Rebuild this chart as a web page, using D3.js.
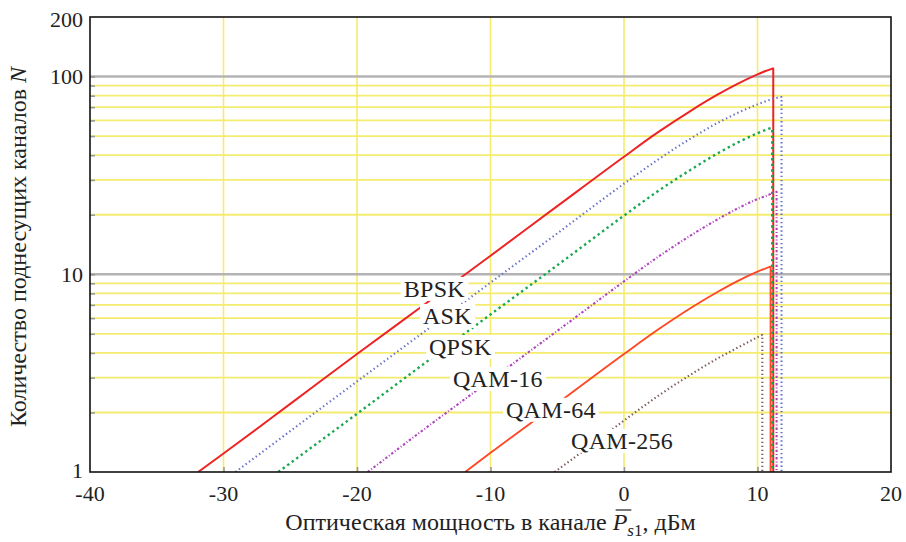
<!DOCTYPE html>
<html>
<head>
<meta charset="utf-8">
<script src="https://cdn.jsdelivr.net/npm/d3@7"></script>
<style>
  body { margin: 0; background: #fff; }
  svg text { font-family: "Liberation Serif", "DejaVu Serif", serif; fill: #222; }
</style>
</head>
<body>
<svg id="chart" width="906" height="542"></svg>
<script>
// Количество поднесущих каналов N vs оптическая мощность, дБм

const xTicks = [-40, -30, -20, -10, 0, 10, 20];
const yTickLabels = [1, 10, 100, 200];
const yMinor = [2, 3, 4, 5, 6, 7, 8, 9, 20, 30, 40, 50, 60, 70, 80, 90];
const yGray = [10, 100];

const seriesNames = ['BPSK', 'ASK', 'QPSK', 'QAM-16', 'QAM-64', 'QAM-256'];

// [P, dBm ; N]; last point = vertical drop
const bpsk = [[-31.9, 1], [-30, 1.24], [-25, 2.21], [-20, 3.95], [-15, 6.99], [-10, 12.4],
  [-5, 22.1], [0, 39.3], [2.5, 52], [5, 67.1], [7, 80.9], [8.5, 91.8], [10, 102.5],
  [10.6, 106.6], [11.1, 109.7], [11.18, 1]];
const ask = [[-29.1, 1], [-25, 1.61], [-20, 2.87], [-15, 5.1], [-10, 9.07], [-5, 16.1],
  [0, 28.7], [2.5, 37.8], [5, 48.6], [7, 58.2], [8.5, 65.4], [10, 72.3], [11, 76.5],
  [11.7, 78.8], [11.8, 1]];
const qpsk = [[-25.9, 1], [-20, 1.97], [-15, 3.52], [-10, 6.26], [-5, 11.1], [0, 19.8],
  [2.5, 26.2], [5, 33.8], [7, 40.8], [8.5, 46.3], [10, 51.7], [10.9, 54.6], [11.1, 1]];
const qam16 = [[-19.2, 1], [-15, 1.64], [-10, 2.91], [-5, 5.17], [0, 9.2], [2.5, 12.17],
  [5, 15.72], [7, 18.94], [8.5, 21.5], [10, 24.0], [11, 25.5], [11.1, 25.7], [11.43, 26.1],
  [11.43, 1]];
const qam64 = [[-11.9, 1], [-10, 1.25], [-5, 2.22], [0, 3.95], [2.5, 5.22], [5, 6.75],
  [7, 8.13], [8.5, 9.23], [10, 10.3], [10.95, 10.92], [10.98, 1]];
const qam256 = [[-5.2, 1], [-2.5, 1.36], [0, 1.82], [2.5, 2.41], [5, 3.11], [7, 3.75],
  [8.5, 4.25], [10, 4.8], [10.36, 4.93], [10.36, 1]];

const seriesValues = [bpsk, ask, qpsk, qam16, qam64, qam256];

// label anchors (data units: start P, baseline N)
const labelAnchors = [[-16.5, 7.68], [-15.06, 5.61], [-14.61, 3.91], [-12.81, 2.69], [-8.84, 1.88], [-3.97, 1.31]];

const lineStyles = [
  { color: '#ee2424', width: 2, dash: null },
  { color: '#6870c8', width: 2.1, dash: '1.4,2.8' },
  { color: '#1aa84e', width: 2.4, dash: '2.4,3.2' },
  { color: '#b044c0', width: 2.1, dash: '2.4,2,1,2' },
  { color: '#ff4826', width: 1.9, dash: null },
  { color: '#7c5a5a', width: 2.1, dash: '1.4,2.6' }
];

const svg = d3.select('#chart');
const plotLeft = 90, plotRight = 891, plotTop = 17, plotBottom = 472;
const serif = '"Liberation Serif", "DejaVu Serif", serif';

const x = d3.scaleLinear().domain([-40, 20]).range([plotLeft, plotRight]);
const y = d3.scaleLog().domain([1, 200]).range([plotBottom, plotTop]);

// grid
const grid = svg.append('g');
grid.selectAll('.vg')
  .data(xTicks.slice(1, -1))
  .enter().append('line')
  .attr('x1', d => x(d)).attr('x2', d => x(d))
  .attr('y1', plotTop).attr('y2', plotBottom)
  .style('stroke', '#f4ec6e').style('stroke-width', 1.6);

grid.selectAll('.hg')
  .data(yMinor)
  .enter().append('line')
  .attr('x1', plotLeft).attr('x2', plotRight)
  .attr('y1', d => y(d)).attr('y2', d => y(d))
  .style('stroke', '#f4ec6e').style('stroke-width', 1.8);

grid.selectAll('.gg')
  .data(yGray)
  .enter().append('line')
  .attr('x1', plotLeft).attr('x2', plotRight)
  .attr('y1', d => y(d)).attr('y2', d => y(d))
  .style('stroke', '#b4b4b4').style('stroke-width', 2.4);

// inner gray tick marks
const yAxis = d3.axisLeft(y).tickValues(yMinor.concat(yGray)).tickSize(-5).tickFormat('');
svg.append('g').attr('transform', `translate(${plotLeft},0)`).call(yAxis)
  .call(g => g.select('.domain').remove())
  .call(g => g.selectAll('line').style('stroke', '#999').style('stroke-width', 1.6));

const xAxis = d3.axisBottom(x).tickValues(xTicks.slice(1, -1)).tickSize(-5).tickFormat('');
svg.append('g').attr('transform', `translate(0,${plotBottom})`).call(xAxis)
  .call(g => g.select('.domain').remove())
  .call(g => g.selectAll('line').style('stroke', '#999').style('stroke-width', 1.6));

// curves: smooth body + straight vertical drop at the end
svg.append('clipPath').attr('id', 'clip').append('rect')
  .attr('x', plotLeft).attr('y', plotTop)
  .attr('width', plotRight - plotLeft).attr('height', plotBottom - plotTop);

const smooth = d3.line().x(d => x(d[0])).y(d => y(d[1])).curve(d3.curveMonotoneX);
const curves = svg.append('g').attr('clip-path', 'url(#clip)');
seriesValues.forEach((vals, i) => {
  const st = lineStyles[i];
  const body = vals.slice(0, -1);
  const last = body[body.length - 1];
  const drop = vals[vals.length - 1];
  const d = smooth(body) + `L${x(drop[0])},${y(last[1])}L${x(drop[0])},${y(drop[1])}`;
  curves.append('path')
    .attr('d', d)
    .style('fill', 'none')
    .style('stroke', st.color)
    .style('stroke-width', st.width)
    .style('stroke-linejoin', 'round')
    .style('stroke-dasharray', st.dash);
});

// frame
svg.append('rect')
  .attr('x', plotLeft).attr('y', plotTop)
  .attr('width', plotRight - plotLeft).attr('height', plotBottom - plotTop)
  .style('fill', 'none').style('stroke', '#111').style('stroke-width', 1.6);

// series labels with white boxes
const labels = svg.append('g');
seriesNames.forEach((name, i) => {
  const g = labels.append('g');
  const t = g.append('text')
    .attr('x', x(labelAnchors[i][0]))
    .attr('y', y(labelAnchors[i][1]))
    .attr('font-family', serif)
    .style('font-size', '24px')
    .style('letter-spacing', '0.3px')
    .text(name);
  const bb = t.node().getBBox();
  g.insert('rect', 'text')
    .attr('x', bb.x - 3).attr('y', bb.y + 1)
    .attr('width', bb.width + 6).attr('height', bb.height - 2)
    .style('fill', '#fff');
});

// tick labels
svg.append('g').selectAll('text')
  .data(yTickLabels)
  .enter().append('text')
  .attr('x', 83)
  .attr('y', d => d === 200 ? y(d) + 2 : (d === 1 ? y(d) - 2 : y(d)))
  .attr('dy', '0.35em')
  .attr('text-anchor', 'end')
  .attr('font-family', serif)
  .style('font-size', '22px')
  .text(d => d);

svg.append('g').selectAll('text')
  .data(xTicks)
  .enter().append('text')
  .attr('x', d => x(d))
  .attr('y', 501)
  .attr('text-anchor', 'middle')
  .attr('font-family', serif)
  .style('font-size', '22px')
  .text(d => d);

// axis titles
const prefix = 'Оптическая мощность в канале ';
const xt = svg.append('text')
  .attr('x', (plotLeft + plotRight) / 2)
  .attr('y', 530)
  .attr('text-anchor', 'middle')
  .attr('font-family', serif)
  .style('font-size', '24px');
xt.append('tspan').text(prefix);
xt.append('tspan').style('font-style', 'italic').text('P');
xt.append('tspan').attr('dy', 6).style('font-size', '17px').style('font-style', 'italic').text('s');
xt.append('tspan').style('font-size', '17px').text('1');
xt.append('tspan').attr('dy', -6).text(', дБм');

const pIdx = prefix.length;
const n = xt.node();
const s = n.getStartPositionOfChar(pIdx);
const e = n.getEndPositionOfChar(pIdx);
svg.append('line')
  .attr('x1', s.x + 3).attr('x2', e.x + 4)
  .attr('y1', s.y - 20).attr('y2', s.y - 20)
  .style('stroke', '#222').style('stroke-width', 1.2);

const yt = svg.append('text')
  .attr('transform', 'translate(26,247) rotate(-90)')
  .attr('text-anchor', 'middle')
  .attr('font-family', serif)
  .style('font-size', '24px');
yt.append('tspan').text('Количество поднесущих каналов ');
yt.append('tspan').style('font-style', 'italic').text('N');
</script>
</body>
</html>
